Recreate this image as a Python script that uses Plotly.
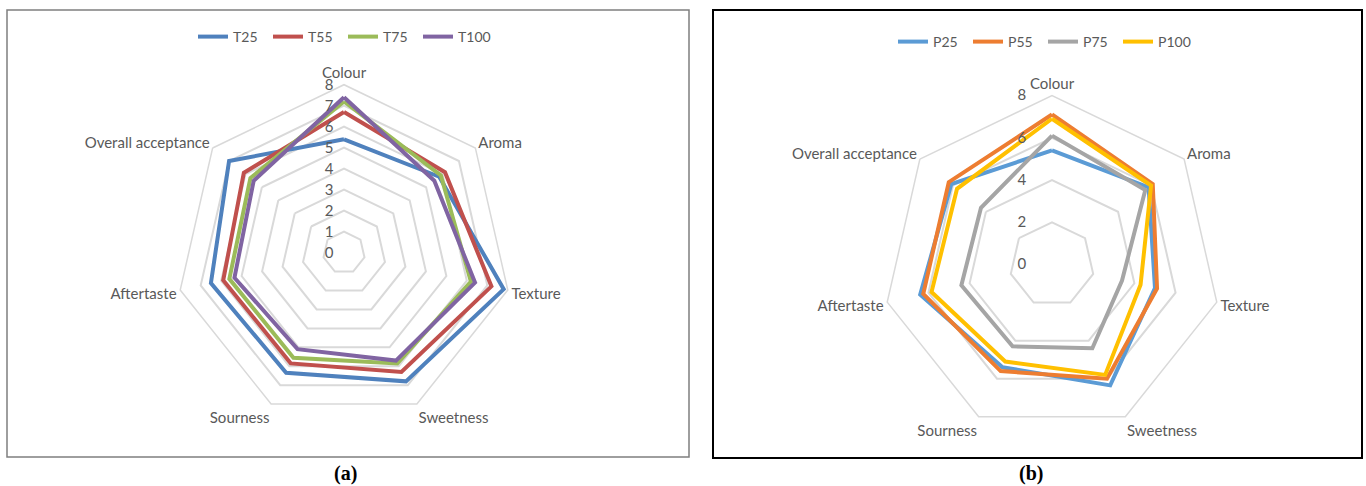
import plotly.graph_objects as go

categories = ["Colour", "Aroma", "Texture", "Sweetness", "Sourness", "Aftertaste", "Overall acceptance"]

# Chart (a)
T25 = [5.4, 5.8, 7.8, 6.8, 6.35, 6.5, 7.0]
T55 = [6.7, 6.15, 7.2, 6.3, 5.85, 5.9, 6.1]
T75 = [7.2, 5.9, 6.2, 5.85, 5.55, 5.6, 5.7]
T100 = [7.4, 5.5, 6.4, 5.7, 5.1, 5.35, 5.5]

# Chart (b)
P25 = [5.4, 5.85, 5.0, 6.35, 5.4, 6.4, 6.1]
P55 = [7.1, 6.1, 5.1, 6.0, 5.6, 6.25, 6.25]
P75 = [6.1, 5.65, 3.4, 4.4, 4.3, 4.4, 4.3]
P100 = [6.9, 6.0, 4.3, 5.8, 5.1, 5.85, 5.75]

series_a = [("T25", T25, "#4F81BD"), ("T55", T55, "#C0504D"), ("T75", T75, "#9BBB59"), ("T100", T100, "#8064A2")]
series_b = [("P25", P25, "#5B9BD5"), ("P55", P55, "#ED7D31"), ("P75", P75, "#A5A5A5"), ("P100", P100, "#FFC000")]

W, H = 1366, 486
TXT = "#595959"
FONT = "Lato"

fig = go.Figure()

def closed(v):
    return list(v) + [v[0]]

for name, vals, col in series_a:
    fig.add_trace(go.Scatterpolar(r=closed(vals), theta=closed(categories), mode="lines",
                                  name=name, line=dict(color=col, width=4),
                                  subplot="polar", legend="legend"))
for name, vals, col in series_b:
    fig.add_trace(go.Scatterpolar(r=closed(vals), theta=closed(categories), mode="lines",
                                  name=name, line=dict(color=col, width=4),
                                  subplot="polar2", legend="legend2"))

def polar_cfg(cx, cy, R, dtick, suffix):
    return dict(
        domain=dict(x=[(cx - R) / W, (cx + R) / W], y=[(H - cy - R) / H, (H - cy + R) / H]),
        bgcolor="rgba(0,0,0,0)",
        gridshape="linear",
        angularaxis=dict(rotation=90, direction="clockwise", showgrid=False, showline=True,
                         linecolor="#D9D9D9", linewidth=1.5, ticks="",
                         tickfont=dict(family=FONT, size=15, color=TXT)),
        radialaxis=dict(range=[0, 8], dtick=dtick, showline=False, gridcolor="#D9D9D9", gridwidth=1.5,
                        ticks="", angle=90, side="counterclockwise", tickangle=90, ticksuffix=suffix,
                        tickfont=dict(family=FONT, size=15, color=TXT)),
    )

legend_common = dict(orientation="h", xanchor="center", yanchor="middle",
                     font=dict(family=FONT, size=14, color=TXT), bgcolor="rgba(0,0,0,0)",
                     itemwidth=30, tracegroupgap=0, entrywidth=30, entrywidthmode="pixels")

fig.update_layout(
    width=W, height=H,
    margin=dict(l=0, r=0, t=0, b=0),
    paper_bgcolor="white", plot_bgcolor="white",
    polar=polar_cfg(344, 252.7, 168, 1, "\u00a0\u00a0"),
    polar2=polar_cfg(1052, 264.5, 169, 2, "\u00a0" * 6),
    legend=dict(x=343 / W, y=1 - 37 / H, **legend_common),
    legend2=dict(x=1043 / W, y=1 - 42 / H, **legend_common),
    shapes=[
        dict(type="rect", xref="paper", yref="paper", x0=7 / W, x1=689 / W, y0=1 - 457 / H, y1=1 - 10 / H,
             line=dict(color="#7F7F7F", width=1.5)),
        dict(type="rect", xref="paper", yref="paper", x0=713 / W, x1=1362 / W, y0=1 - 458 / H, y1=1 - 10 / H,
             line=dict(color="#000000", width=2)),
    ],
    annotations=[
        dict(text="<b>(a)</b>", x=345 / W, y=1 - 473 / H, xref="paper", yref="paper", showarrow=False,
             xanchor="center", yanchor="middle", font=dict(family="Liberation Serif", size=20, color="black")),
        dict(text="<b>(b)</b>", x=1031 / W, y=1 - 473 / H, xref="paper", yref="paper", showarrow=False,
             xanchor="center", yanchor="middle", font=dict(family="Liberation Serif", size=20, color="black")),
    ],
)

fig.write_html("out.html")
